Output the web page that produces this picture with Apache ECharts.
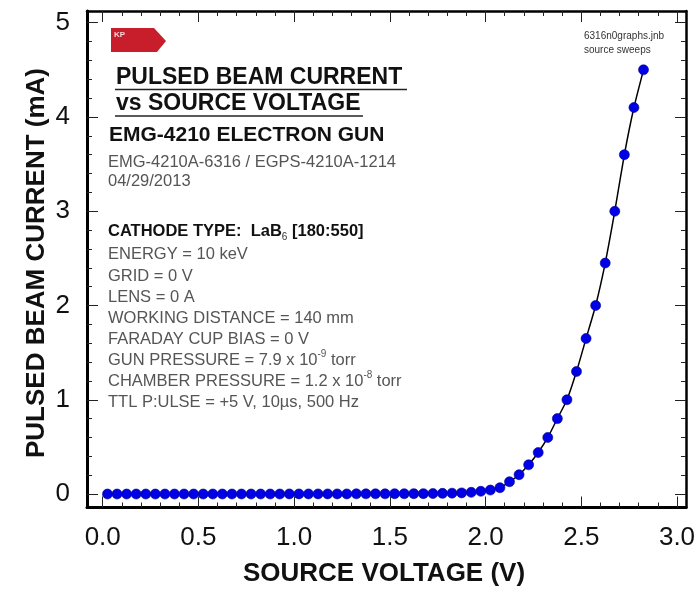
<!DOCTYPE html>
<html>
<head>
<meta charset="utf-8">
<script src="https://cdn.jsdelivr.net/npm/echarts@6/dist/echarts.min.js"></script>
<style>html,body{margin:0;padding:0;background:#fff}#c{width:694px;height:591px}</style>
</head>
<body>
<div id="c"></div>
<script>
const voltage = [0.025,0.075,0.125,0.175,0.225,0.275,0.325,0.375,0.425,0.475,
  0.525,0.575,0.625,0.675,0.725,0.775,0.825,0.875,0.925,0.975,
  1.025,1.075,1.125,1.175,1.225,1.275,1.325,1.375,1.425,1.475,
  1.525,1.575,1.625,1.675,1.725,1.775,1.825,1.875,1.925,1.975,
  2.025,2.075,2.125,2.175,2.225,2.275,2.325,2.375,2.425,2.475,
  2.525,2.575,2.625,2.675,2.725,2.775,2.825];
const current = [0,0,0,0,0,0,0,0,0,0,
  0,0,0,0,0,0,0,0,0,0.001,
  0.001,0.001,0.001,0.001,0.001,0.001,0.002,0.002,0.002,0.002,
  0.003,0.003,0.004,0.004,0.005,0.007,0.009,0.012,0.018,0.029,
  0.042,0.067,0.13,0.205,0.31,0.44,0.60,0.80,1.00,1.30,
  1.65,2.00,2.45,3.00,3.60,4.10,4.50];
const xMajorTicks = [0,0.5,1,1.5,2,2.5,3];
const xMinorTicks = [0,0.1,0.2,0.3,0.4,0.5,0.6,0.7,0.8,0.9,1,1.1,1.2,1.3,1.4,1.5,1.6,1.7,1.8,1.9,2,2.1,2.2,2.3,2.4,2.5,2.6,2.7,2.8,2.9,3];
const yMajorTicks = [0,1,2,3,4,5];
const yMinorTicks = [0,0.2,0.4,0.6,0.8,1,1.2,1.4,1.6,1.8,2,2.2,2.4,2.6,2.8,3,3.2,3.4,3.6,3.8,4,4.2,4.4,4.6,4.8,5];
const xTitle = 'SOURCE VOLTAGE (V)';
const yTitle = 'PULSED BEAM CURRENT (mA)';
const infoLines = [
  '{t|ENERGY = 10 keV}',
  '{t|GRID = 0 V}',
  '{t|LENS = 0 A}',
  '{t|WORKING DISTANCE = 140 mm}',
  '{t|FARADAY CUP BIAS = 0 V}',
  '{t|GUN PRESSURE = 7.9 x 10}{sup|-9}{t| torr}',
  '{t|CHAMBER PRESSURE = 1.2 x 10}{sup|-8}{t| torr}',
  '{t|TTL P:ULSE = +5 V, 10µs, 500 Hz}'
];

const FF = '"Liberation Sans", Arial, sans-serif';
const XMIN = -0.082, XMAX = 3.047, YMIN = -0.143, YMAX = 5.124;
const chart = echarts.init(document.getElementById('c'), null, {renderer: 'canvas'});

function xAx(pos, ticks, len, showLine, labels) {
  return {
    type: 'value', position: pos, min: XMIN, max: XMAX,
    axisLine: {show: showLine, onZero: false, lineStyle: {color: '#000', width: pos === 'bottom' ? 3 : 2.5}},
    axisTick: {show: true, inside: true, length: len, customValues: ticks, lineStyle: {color: '#222', width: 1}},
    axisLabel: labels ? {show: true, customValues: xMajorTicks, formatter: v => v.toFixed(1), fontSize: 26, fontFamily: FF, color: '#111', margin: 17} : {show: false},
    splitLine: {show: false}
  };
}
function yAx(pos, ticks, len, showLine, labels) {
  return {
    type: 'value', position: pos, min: YMIN, max: YMAX,
    axisLine: {show: showLine, onZero: false, lineStyle: {color: '#000', width: pos === 'left' ? 3 : 2.5}},
    axisTick: {show: true, inside: true, length: len, customValues: ticks, lineStyle: {color: '#222', width: 1}},
    axisLabel: labels ? {show: true, customValues: yMajorTicks, formatter: v => String(v), fontSize: 26, fontFamily: FF, color: '#111', margin: 17} : {show: false},
    splitLine: {show: false}
  };
}

const graphics = [];
function txt(x, y, text, font, fill, extra) {
  graphics.push(Object.assign({type: 'text', x: x, y: y, z: 100,
    style: Object.assign({text: text, font: font, fill: fill, verticalAlign: 'middle', align: 'left'}, extra || {})}));
}
// logo
graphics.push({type: 'polygon', z: 100, shape: {points: [[111,28],[154,28],[166,41],[157,52],[111,52]]}, style: {fill: '#c81e2c'}});
txt(114, 35, 'KP', 'bold 8px ' + FF, '#f5d5d5');
// titles
txt(116, 78, 'PULSED BEAM CURRENT', 'bold 23px ' + FF, '#111');
txt(116, 104, 'vs SOURCE VOLTAGE', 'bold 23px ' + FF, '#111');
graphics.push({type: 'line', z: 100, shape: {x1: 115, y1: 89.5, x2: 407, y2: 89.5}, style: {stroke: '#222', lineWidth: 1.5}});
graphics.push({type: 'line', z: 100, shape: {x1: 115, y1: 116, x2: 363, y2: 116}, style: {stroke: '#222', lineWidth: 1.5}});
txt(109, 135, 'EMG-4210 ELECTRON GUN', 'bold 21px ' + FF, '#111');
txt(108, 162.5, 'EMG-4210A-6316 / EGPS-4210A-1214', '16.5px ' + FF, '#555');
txt(108, 181, '04/29/2013', '16.5px ' + FF, '#555');
txt(108, 231, '{b|CATHODE TYPE:  LaB}{s|6}{b| [180:550]}', '', '#111', {
  rich: {
    b: {font: 'bold 16.5px ' + FF, fill: '#111', lineHeight: 22, verticalAlign: 'middle'},
    s: {font: '10px ' + FF, fill: '#333', lineHeight: 12, verticalAlign: 'bottom'}
  }
});
const infoY = [254.5, 276, 297.5, 318.5, 339.5, 360.5, 381.5, 402.5];
infoLines.forEach((t, i) => {
  txt(108, infoY[i], t, '', '#555', {
    rich: {
      t: {font: '16.5px ' + FF, fill: '#555', lineHeight: 22, verticalAlign: 'middle'},
      sup: {font: '10px ' + FF, fill: '#555', lineHeight: 12, verticalAlign: 'top'}
    }
  });
});
txt(584, 36, '6316n0graphs.jnb', '10px ' + FF, '#333');
txt(584, 50, 'source sweeps', '10px ' + FF, '#333');
// axis titles
txt(384, 573.5, xTitle, 'bold 26px ' + FF, '#111', {align: 'center'});
graphics.push({type: 'text', z: 100, x: 37, y: 263, rotation: Math.PI / 2,
  style: {text: yTitle, font: 'bold 26px ' + FF, fill: '#111', align: 'center', verticalAlign: 'middle'}});

const option = {
  animation: false,
  backgroundColor: '#fff',
  grid: {left: 87, right: 8, top: 11, bottom: 83.5, containLabel: false, outerBoundsMode: 'none'},
  xAxis: [
    xAx('bottom', xMajorTicks, 11, true, true),
    xAx('bottom', xMinorTicks, 5, false, false),
    xAx('top', xMajorTicks, 11, true, false),
    xAx('top', xMinorTicks, 5, false, false)
  ],
  yAxis: [
    yAx('left', yMajorTicks, 11, true, true),
    yAx('left', yMinorTicks, 5, false, false),
    yAx('right', yMajorTicks, 11, true, false),
    yAx('right', yMinorTicks, 5, false, false)
  ],
  series: [{
    type: 'line', xAxisIndex: 0, yAxisIndex: 0,
    data: voltage.map((v, i) => [v, current[i]]),
    symbol: 'circle', symbolSize: 10, smooth: 0.2,
    lineStyle: {color: '#000', width: 1.5},
    itemStyle: {color: '#0000e6', borderColor: '#00008c', borderWidth: 0.6},
    z: 10
  }],
  graphic: graphics
};
chart.setOption(option);
</script>
</body>
</html>
